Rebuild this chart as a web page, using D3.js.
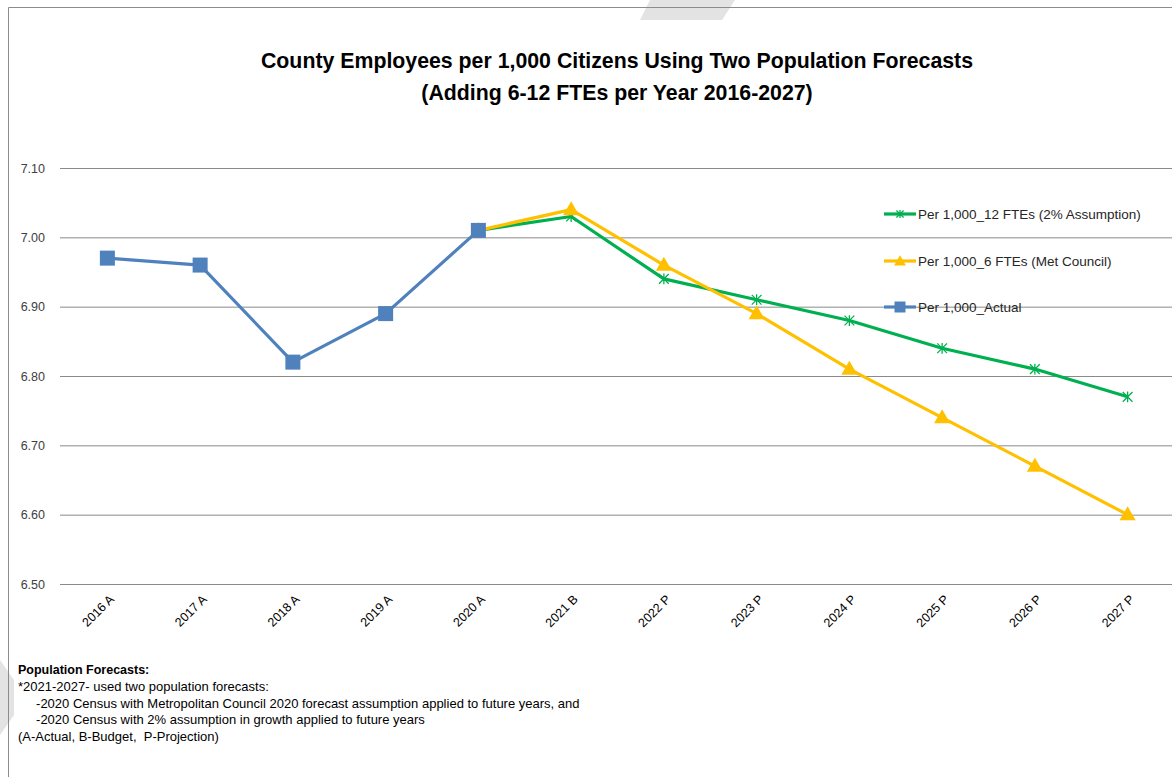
<!DOCTYPE html>
<html>
<head>
<meta charset="utf-8">
<script src="https://cdn.jsdelivr.net/npm/d3@7"></script>
<style>
  body { margin: 0; background: #fff; }
  svg { display: block; font-family: "Liberation Sans", Arial, sans-serif; }
</style>
</head>
<body>
<svg width="1172" height="777"></svg>
<script>
// chart data
let years = ['2016 A', '2017 A', '2018 A', '2019 A', '2020 A', '2021 B', '2022 P', '2023 P', '2024 P', '2025 P', '2026 P', '2027 P']
let actual = [6.97, 6.96, 6.82, 6.89, 7.01, null, null, null, null, null, null, null]
let fte12 = [null, null, null, null, 7.01, 7.03, 6.94, 6.91, 6.88, 6.84, 6.81, 6.77]
let fte6 = [null, null, null, null, 7.01, 7.04, 6.96, 6.89, 6.81, 6.74, 6.67, 6.60]
let yTicks = [6.5, 6.6, 6.7, 6.8, 6.9, 7.0, 7.1]

let titleLines = ['County Employees per 1,000 Citizens Using Two Population Forecasts', '(Adding 6-12 FTEs per Year 2016-2027)']
let notes = [
  '*2021-2027- used two population forecasts:',
  '     -2020 Census with Metropolitan Council 2020 forecast assumption applied to future years, and',
  '     -2020 Census with 2% assumption in growth applied to future years',
  '(A-Actual, B-Budget,  P-Projection)'
]

var svg = d3.select('svg')

let x = d3.scalePoint().domain(years).range([61, 1174]).padding(0.5)
let y = d3.scaleLinear().domain([6.5, 7.1]).range([584, 168])

// watermark shapes
svg.append('path').attr('d', 'M650,0 L735,0 L722,20 L640,20 Z').attr('fill', '#e3e3e3')
svg.append('path').attr('d', 'M0,660 L14,680 L14,715 L0,735 Z').attr('fill', '#e3e3e3')

// frame
svg.append('path').attr('d', 'M8.5,777 L8.5,7.5 L1172,7.5')
  .attr('fill', 'none').attr('stroke', '#8c8c8c').attr('stroke-width', 1)

// titles
svg.selectAll('.title').data(titleLines).enter().append('text')
  .attr('x', 617).attr('y', (d, i) => 68 + i * 32)
  .attr('text-anchor', 'middle')
  .attr('font-size', 21.3).attr('font-weight', 'bold').attr('fill', '#000')
  .text(d => d)

// grid
let yAxis = d3.axisLeft(y).tickValues(yTicks).tickSize(-1112).tickFormat(d3.format('.2f'))
let gy = svg.append('g').attr('transform', 'translate(60,0)').call(yAxis)
gy.select('.domain').remove()
gy.selectAll('.tick line').attr('stroke', '#8a8a8a').attr('stroke-width', 1)
gy.selectAll('.tick text').attr('x', -15).attr('font-size', 12.5).attr('fill', '#404040')
  .attr('font-family', 'Liberation Sans, Arial, sans-serif')

// x labels
let xAxis = d3.axisBottom(x).tickSize(0)
let gx = svg.append('g').attr('transform', 'translate(0,584)').call(xAxis)
gx.select('.domain').remove()
gx.selectAll('.tick text')
  .attr('font-size', 12.5).attr('fill', '#000')
  .attr('font-family', 'Liberation Sans, Arial, sans-serif')
  .attr('text-anchor', 'end')
  .attr('dy', 0).attr('y', 0)
  .attr('transform', 'translate(7,16) rotate(-45)')

let line = d3.line()
  .defined(d => d !== null)
  .x((d, i) => x(years[i]))
  .y(d => y(d))

let starPath = (s) => {
  let h = s / 2
  return 'M' + (-h) + ',' + (-h) + 'L' + h + ',' + h + 'M' + (-h) + ',' + h + 'L' + h + ',' + (-h) + 'M0,' + (-h * 1.1) + 'L0,' + (h * 1.1)
}

let series = [
  { name: 'Per 1,000_12 FTEs (2% Assumption)', values: fte12, color: '#00b050', marker: 'star' },
  { name: 'Per 1,000_6 FTEs (Met Council)', values: fte6, color: '#ffc000', marker: 'triangle' },
  { name: 'Per 1,000_Actual', values: actual, color: '#4f81bd', marker: 'square' }
]

let drawMarker = (g, s, size) => {
  if (s.marker === 'star') {
    g.append('path').attr('d', starPath(size * 0.65))
      .attr('stroke', s.color).attr('stroke-width', 1.3).attr('fill', 'none')
  } else if (s.marker === 'triangle') {
    g.append('path').attr('d', d3.symbol().type(d3.symbolTriangle).size(size * size * 0.5)())
      .attr('transform', 'translate(0,1)')
      .attr('fill', s.color)
  } else {
    g.append('rect').attr('x', -size / 2).attr('y', -size / 2)
      .attr('width', size).attr('height', size).attr('fill', s.color)
  }
}

series.forEach(s => {
  svg.append('path').datum(s.values)
    .attr('d', line)
    .attr('fill', 'none')
    .attr('stroke', s.color)
    .attr('stroke-width', 3.2)
    .attr('stroke-linejoin', 'round')
})

series.forEach(s => {
  s.values.forEach((v, i) => {
    if (v === null) return
    let g = svg.append('g').attr('transform', 'translate(' + x(years[i]) + ',' + y(v) + ')')
    drawMarker(g, s, 15)
  })
})

// legend
let legendY = [214, 261, 307]
series.forEach((s, i) => {
  let lg = svg.append('g').attr('transform', 'translate(884,' + legendY[i] + ')')
  lg.append('line').attr('x1', 0).attr('x2', 32).attr('y1', 0).attr('y2', 0)
    .attr('stroke', s.color).attr('stroke-width', 3.2)
  let mg = lg.append('g').attr('transform', 'translate(16,0)')
  drawMarker(mg, s, 11)
  lg.append('text').attr('x', 34).attr('y', 5)
    .attr('font-size', 13.5).attr('fill', '#262626')
    .text(s.name)
})

// footnote
svg.append('text').attr('x', 18).attr('y', 674)
  .attr('font-size', 12.5).attr('font-weight', 'bold').attr('fill', '#000')
  .text('Population Forecasts:')
svg.selectAll('.note').data(notes).enter().append('text')
  .attr('x', 18).attr('y', (d, i) => 691 + i * 16.5)
  .attr('font-size', 13).attr('fill', '#000')
  .attr('xml:space', 'preserve')
  .style('white-space', 'pre')
  .text(d => d)
</script>
</body>
</html>
